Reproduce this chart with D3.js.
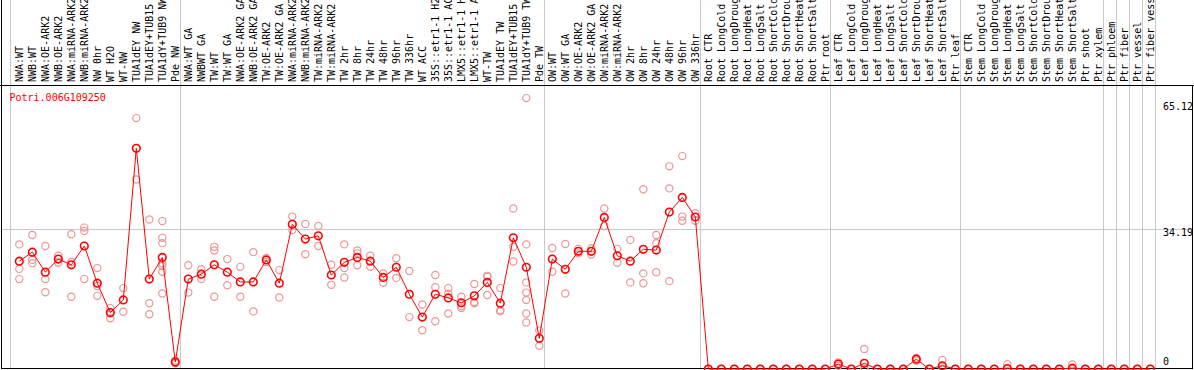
<!DOCTYPE html>
<html>
<head>
<meta charset="utf-8">
<script src="https://cdn.jsdelivr.net/npm/d3@7"></script>
<style>
  body { margin: 0; background: #fff; }
  svg { display: block; font-family: "DejaVu Sans Mono", monospace; font-size: 10px; }
</style>
</head>
<body>
<div id="chart"></div>
<script>
const geneName = 'Potri.006G109250';

const categories = [
  'NWA:WT', 'NWB:WT', 'NWA:OE-ARK2', 'NWB:OE-ARK2', 'NWA:miRNA-ARK2', 'NWB:miRNA-ARK2',
  'NW 0hr', 'WT H2O', 'WT-NW', 'TUA1dEY NW', 'TUA1dEY+TUB15 NW', 'TUA1dY+TUB9 NW', 'Pde NW',
  'NWA:WT GA', 'NWBWT GA', 'TW:WT', 'TW:WT GA', 'NWA:OE-ARK2 GA', 'NWB:OE-ARK2 GA',
  'TW:OE-ARK2', 'TW:OE-ARK2 GA', 'NWA:miRNA-ARK2', 'NWB:miRNA-ARK2', 'TW:miRNA-ARK2',
  'TW:miRNA-ARK2', 'TW 2hr', 'TW 8hr', 'TW 24hr', 'TW 48hr', 'TW 96hr', 'TW 336hr',
  'WT ACC', '35S::etr1-1 H2O', '35S::etr1-1 ACC', 'LMX5::etr1-1 H2O', 'LMX5::etr1-1 ACC',
  'WT-TW', 'TUA1dEY TW', 'TUA1dEY+TUB15 TW', 'TUA1dY+TUB9 TW', 'Pde TW',
  'OW:WT', 'OW:WT GA', 'OW:OE-ARK2', 'OW:OE-ARK2 GA', 'OW:miRNA-ARK2', 'OW:miRNA-ARK2',
  'OW 2hr', 'OW 8hr', 'OW 24hr', 'OW 48hr', 'OW 96hr', 'OW 336hr',
  'Root CTR', 'Root LongCold', 'Root LongDrought', 'Root LongHeat', 'Root LongSalt',
  'Root ShortCold', 'Root ShortDrought', 'Root ShortHeat', 'Root ShortSalt', 'Ptr root',
  'Leaf CTR', 'Leaf LongCold', 'Leaf LongDrought', 'Leaf LongHeat', 'Leaf LongSalt',
  'Leaf ShortCold', 'Leaf ShortDrought', 'Leaf ShortHeat', 'Leaf ShortSalt', 'Ptr leaf',
  'Stem CTR', 'Stem LongCold', 'Stem LongDrought', 'Stem LongHeat', 'Stem LongSalt',
  'Stem ShortCold', 'Stem ShortDrought', 'Stem ShortHeat', 'Stem ShortSalt', 'Ptr shoot',
  'Ptr xylem', 'Ptr phloem', 'Ptr fiber', 'Ptr vessel', 'Ptr fiber vessel'
];

// mean expression (red line)
const meanValues = [
  26.4, 28.6, 23.7, 26.9, 25.5, 30.1, 21.0, 13.8, 16.9, 54.0, 22.0, 27.3, 1.7,
  22.0, 23.2, 25.5, 23.7, 21.3, 21.3, 26.7, 21.0, 35.4, 31.8, 32.6, 23.0,
  26.1, 27.3, 26.4, 22.4, 24.9, 18.3, 12.7, 18.3, 17.4, 16.2, 17.9,
  21.2, 16.1, 32.1, 24.9, 7.5,
  26.9, 24.4, 28.8, 28.8, 37.1, 27.7, 26.4, 29.3, 29.1, 38.4, 42.0, 37.2,
  0, 0, 0, 0, 0, 0, 0, 0, 0, 0,
  1.2, 0, 1.4, 0, 0, 0, 2.4, 0, 0.8, 0,
  0, 0, 0, 0.1, 0, 0, 0, 0, 0.2, 0,
  0, 0, 0, 0, 0
];

// individual replicates (pink circles)
const replicateValues = [
  [30.5, 24.5, 22.0], [32.8, 26.7, 25.9], [30.1, 22.0, 18.8], [27.7, 26.9, 26.0],
  [33.0, 26.2, 17.7], [34.6, 33.8, 22.0], [24.7, 20.3, 17.9], [14.9, 13.6, 12.4],
  [19.8, 14.0], [61.4, 46.4], [36.6, 16.1, 13.4],
  [36.2, 32.1, 30.8, 25.9, 25.2, 23.8, 18.5], [2.1, 1.4],
  [25.4, 18.7], [24.4, 22.0], [29.9, 29.0, 17.7], [26.9, 20.5], [25.0, 17.7],
  [28.6, 14.1], [27.2, 26.2], [24.2, 17.5], [37.3, 34.0], [35.5, 28.1],
  [35.0, 30.1], [25.5, 20.6], [30.5, 24.7, 22.4], [29.0, 28.3, 25.4],
  [27.7, 25.0], [23.4, 21.1], [27.1, 22.3], [24.0, 12.7], [15.8, 9.5],
  [23.0, 20.0, 11.7], [19.8, 18.4, 13.6], [17.7, 15.4, 14.9], [20.8, 16.4, 16.1],
  [22.8, 22.6, 18.1], [19.8, 14.4, 14.1], [39.3, 29.9, 26.3],
  [66.3, 30.5, 21.2, 18.7, 16.9, 13.6, 11.4], [9.4, 5.7],
  [29.6, 23.8], [30.6, 18.5], [29.4, 28.3], [29.5, 28.0], [39.3, 35.0],
  [29.4, 26.0], [31.6, 21.2], [44.0, 23.4, 21.0], [32.8, 30.8, 23.7],
  [49.6, 44.2, 21.5], [52.1, 37.3, 36.3], [38.1, 36.3],
  [0, 0], [0, 0], [0, 0], [0, 0], [0, 0], [0, 0], [0, 0], [0, 0], [0, 0], [0, 0],
  [1.6, 0.8], [0, 0], [4.9, 0, 0], [0, 0], [0, 0], [0, 0], [2.7, 2.0], [0, 0],
  [2.2, 0], [0, 0],
  [0, 0], [0, 0], [0, 0], [1.2, 0], [0, 0], [0, 0], [0, 0], [0, 0], [1.1, 0], [0, 0],
  [0, 0], [0, 0], [0, 0], [0, 0], [0, 0]
];

const tickValues = [0, 34.19, 65.12];
const gridValues = [34.19];
// last column index of each group (a separator is drawn after it)
const groupEnds = [12, 40, 52, 62, 72, 83, 84, 85, 86, 87];

const W = 1194, H = 370;
const headerY = 85.5;

const svg = d3.select('#chart').append('svg')
  .attr('width', W)
  .attr('height', H);

const x = d3.scaleLinear()
  .domain([0, categories.length - 1])
  .range([19.3, 19.3 + 13 * (categories.length - 1)]);

const y = d3.scaleLinear()
  .domain([0, 34.19])
  .range([369, 229.3]);

// grid
svg.append('g')
  .selectAll('line')
  .data(gridValues)
  .enter().append('line')
  .attr('x1', 1).attr('x2', 1192)
  .attr('y1', d => Math.floor(y(d)) + 0.5)
  .attr('y2', d => Math.floor(y(d)) + 0.5)
  .attr('stroke', '#c8c8c8');

const sepX = [x(0) - 9].concat(groupEnds.map(i => x(i) + 5));
svg.append('g')
  .selectAll('line')
  .data(sepX)
  .enter().append('line')
  .attr('x1', d => Math.floor(d) + 0.5)
  .attr('x2', d => Math.floor(d) + 0.5)
  .attr('y1', 0).attr('y2', 369)
  .attr('stroke', '#c8c8c8');

// frame
svg.append('line').attr('x1', 1.5).attr('x2', 1.5).attr('y1', 0).attr('y2', 369)
  .attr('stroke', '#000');
svg.append('line').attr('x1', 0).attr('x2', W).attr('y1', headerY).attr('y2', headerY)
  .attr('stroke', '#000');
svg.append('line').attr('x1', 1192.5).attr('x2', 1192.5).attr('y1', headerY).attr('y2', 369)
  .attr('stroke', '#000');
svg.append('line').attr('x1', 1).attr('x2', 1193).attr('y1', 368.5).attr('y2', 368.5)
  .attr('stroke', '#000');

// column labels
svg.append('g')
  .selectAll('text')
  .data(categories)
  .enter().append('text')
  .attr('transform', (d, i) => `translate(${x(i) + 4},82) rotate(-90)`)
  .attr('fill', '#000')
  .text(d => d);

// y tick labels
svg.append('g')
  .selectAll('text')
  .data(tickValues)
  .enter().append('text')
  .attr('x', 1163)
  .attr('y', d => Math.min(y(d) + 7, 365))
  .attr('fill', '#000')
  .text(d => d);

// gene name
svg.append('text')
  .attr('x', 9.5)
  .attr('y', 101)
  .attr('fill', '#ff0000')
  .text(geneName);

// replicates
const reps = [];
replicateValues.forEach((vals, i) => vals.forEach(v => reps.push({ i, v })));

svg.append('g')
  .selectAll('circle')
  .data(reps)
  .enter().append('circle')
  .attr('cx', d => x(d.i))
  .attr('cy', d => y(d.v))
  .attr('r', 3.6)
  .attr('fill', 'none')
  .attr('stroke', '#ec9696')
  .attr('stroke-width', 1.2);

// mean line
const line = d3.line()
  .x((d, i) => x(i))
  .y(d => y(d));

svg.append('path')
  .datum(meanValues)
  .attr('d', line)
  .attr('fill', 'none')
  .attr('stroke', '#ff0000')
  .attr('stroke-width', 1);

svg.append('g')
  .selectAll('circle')
  .data(meanValues)
  .enter().append('circle')
  .attr('cx', (d, i) => x(i))
  .attr('cy', d => y(d))
  .attr('r', 3.8)
  .attr('fill', 'none')
  .attr('stroke', '#ff0000')
  .attr('stroke-width', 1.6);
</script>
</body>
</html>
